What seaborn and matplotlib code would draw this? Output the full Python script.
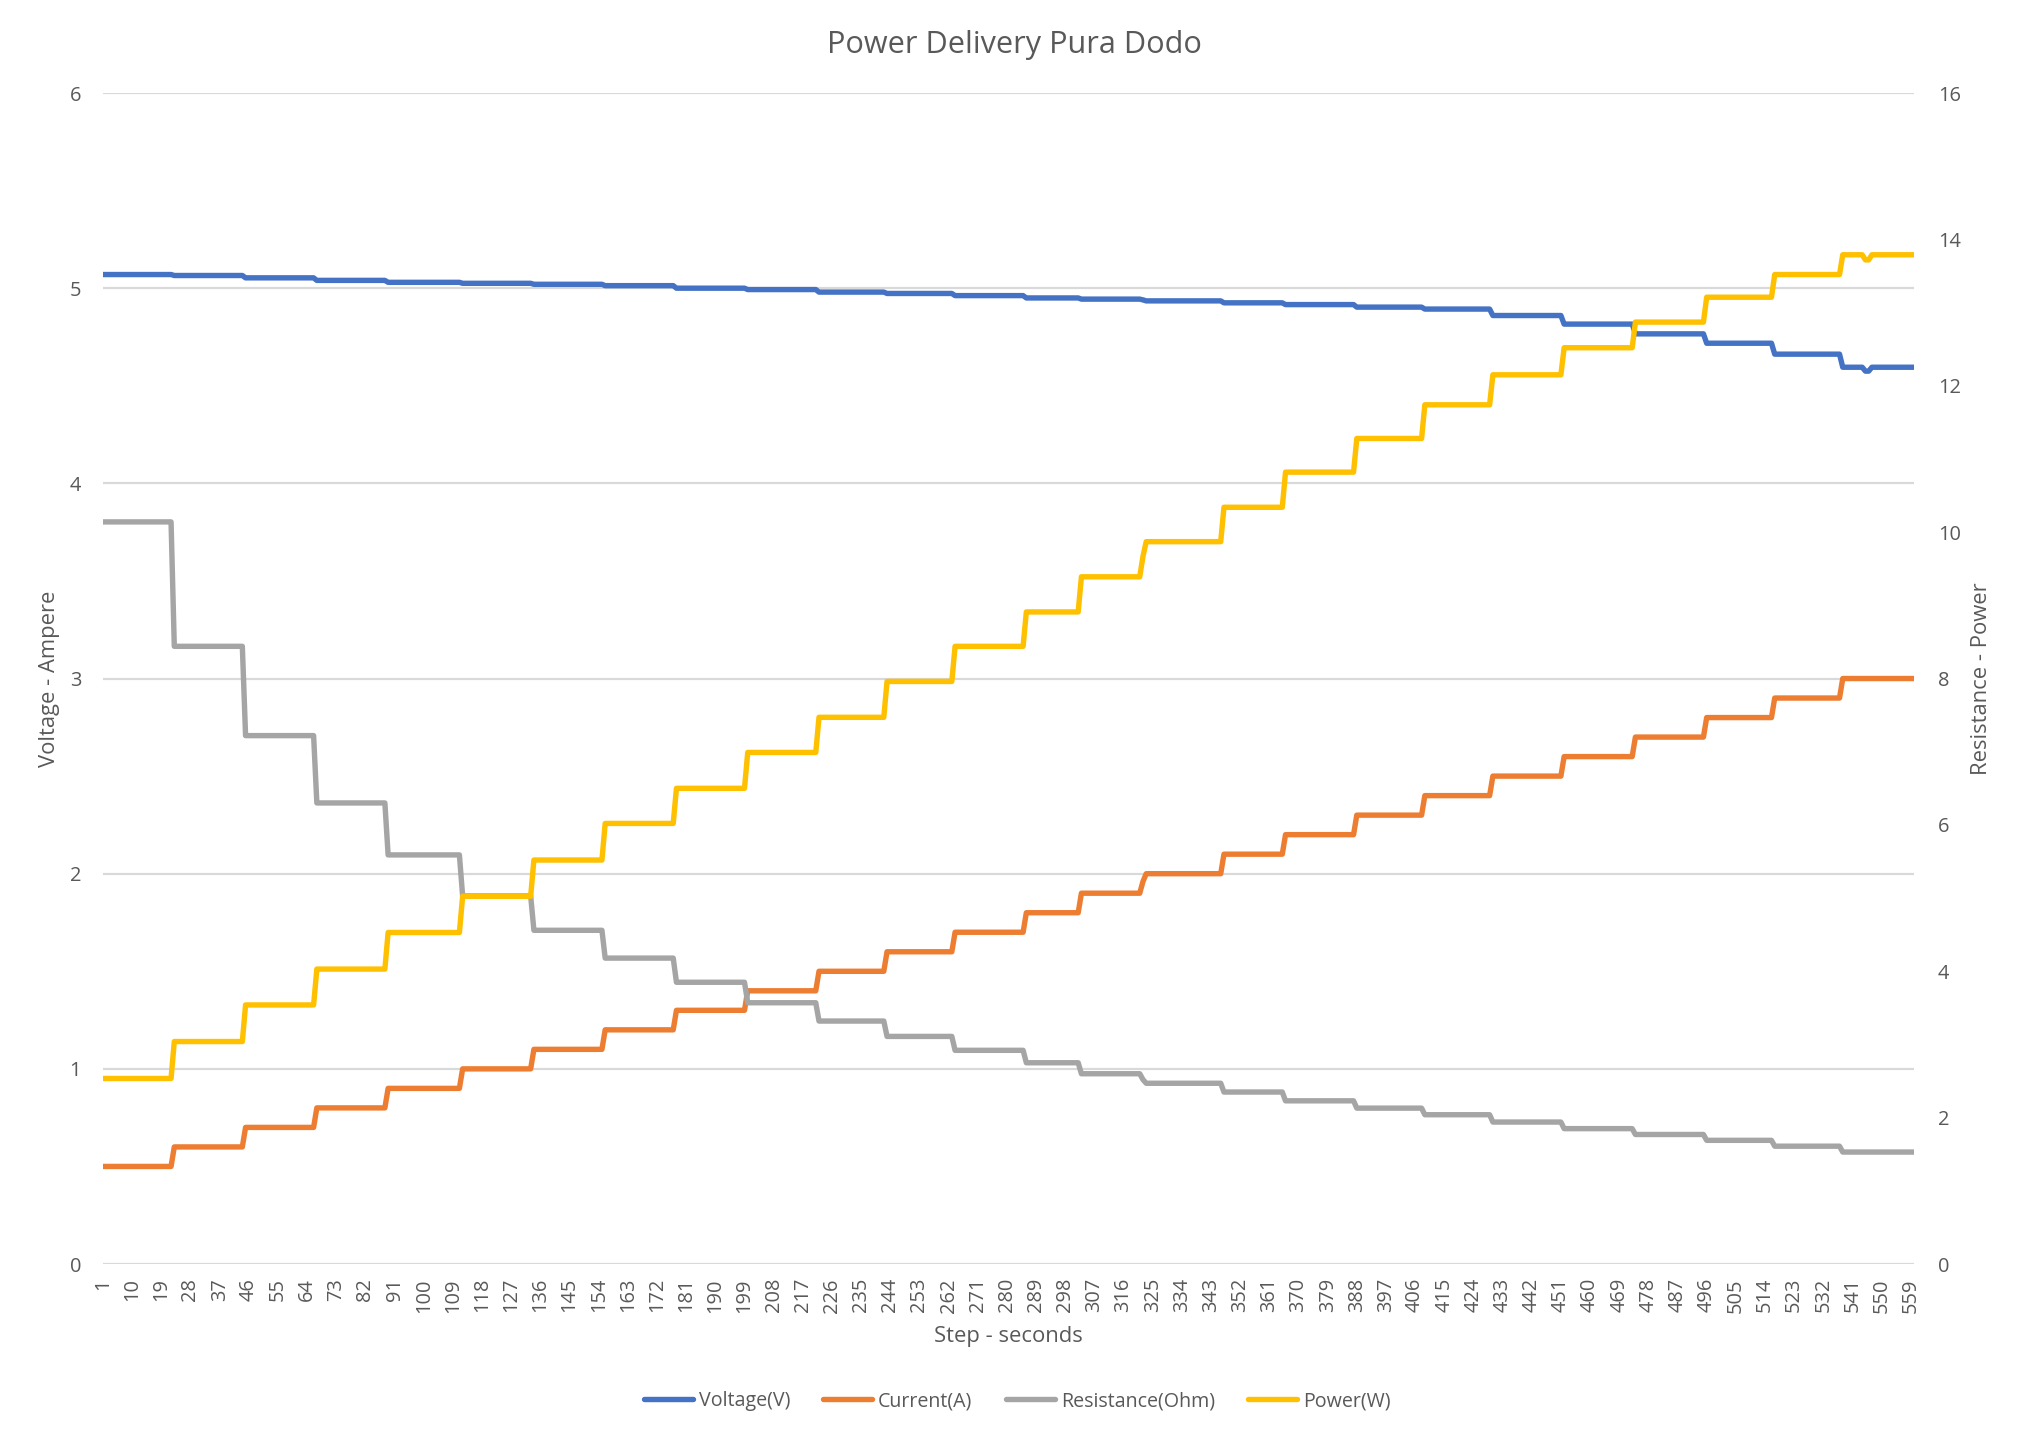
import numpy as np
import pandas as pd
import matplotlib
matplotlib.use("Agg")
import matplotlib.pyplot as plt
import seaborn as sns

# one level per current setting: first step of the level and the logged values
level_start = [1, 23, 45, 67, 89, 112, 134, 156, 178, 200, 222, 243, 264,
               286, 303, 323, 347, 366, 388, 409, 430, 452, 474, 496, 517, 538]
last_step = 560

current_a = [0.5, 0.6, 0.7, 0.8, 0.9, 1.0, 1.1, 1.2, 1.3, 1.4, 1.5, 1.6, 1.7,
             1.8, 1.9, 2.0, 2.1, 2.2, 2.3, 2.4, 2.5, 2.6, 2.7, 2.8, 2.9, 3.0]
voltage_v = [5.07, 5.065, 5.053, 5.04, 5.03, 5.025, 5.02, 5.013, 5.0, 4.993,
             4.98, 4.973, 4.962, 4.95, 4.944, 4.935, 4.925, 4.916, 4.903,
             4.893, 4.86, 4.816, 4.766, 4.718, 4.662, 4.595]
resistance_ohm = [10.14, 8.44, 7.22, 6.30, 5.59, 5.03, 4.56, 4.18, 3.85, 3.57,
                  3.32, 3.11, 2.92, 2.75, 2.60, 2.47, 2.35, 2.23, 2.13, 2.04,
                  1.94, 1.85, 1.77, 1.69, 1.61, 1.53]
power_w = [2.535, 3.04, 3.54, 4.03, 4.53, 5.025, 5.52, 6.02, 6.50, 6.99,
           7.47, 7.96, 8.44, 8.91, 9.39, 9.87, 10.34, 10.82, 11.28, 11.74,
           12.15, 12.52, 12.87, 13.21, 13.52, 13.79]

# short one-off readings inside a level
glitch_step = [322, 545, 546]
glitch_voltage = [4.94, 4.575, 4.575]
glitch_current = [1.96, 3.0, 3.0]
glitch_resistance = [2.52, 1.53, 1.53]
glitch_power = [9.67, 13.72, 13.72]

steps = np.arange(1, last_step + 1)
durations = np.diff(level_start + [last_step + 1])
idx = np.array(glitch_step) - 1

df = pd.DataFrame({"Step": steps})
for col, levels, glitch in [("Voltage(V)", voltage_v, glitch_voltage),
                            ("Current(A)", current_a, glitch_current),
                            ("Resistance(Ohm)", resistance_ohm, glitch_resistance),
                            ("Power(W)", power_w, glitch_power)]:
    vals = np.repeat(np.array(levels, dtype=float), durations)
    vals[idx] = glitch
    df[col] = vals

colors = {"Voltage(V)": "#4472C4", "Current(A)": "#ED7D31",
          "Resistance(Ohm)": "#A5A5A5", "Power(W)": "#FFC000"}
text_color = "#595959"

sns.set_style("white")
plt.rcParams["font.family"] = ["Open Sans", "DejaVu Sans"]

fig, ax = plt.subplots(figsize=(2028 / 144, 1440 / 144), dpi=144)
fig.subplots_adjust(left=0.0508, right=0.9438, top=0.9354, bottom=0.1222)
ax2 = ax.twinx()

for col in ["Voltage(V)", "Current(A)"]:
    sns.lineplot(data=df, x="Step", y=col, ax=ax, color=colors[col], lw=2.7,
                 label=col, legend=False, solid_capstyle="round")
for col in ["Resistance(Ohm)", "Power(W)"]:
    sns.lineplot(data=df, x="Step", y=col, ax=ax2, color=colors[col], lw=2.7,
                 label=col, legend=False, solid_capstyle="round")

ax.set_xlim(1, last_step)
ax.set_ylim(0, 6)
ax2.set_ylim(0, 16)
ax.set_yticks(np.arange(0, 7, 1))
ax2.set_yticks(np.arange(0, 17, 2))
ax.set_xticks(np.arange(1, last_step, 9))
ax.set_xticklabels([str(s) for s in np.arange(1, last_step, 9)], rotation=90)

ax.yaxis.grid(True, color="#D9D9D9", lw=1.1)
ax.xaxis.grid(False)
ax.set_axisbelow(True)
for a in (ax, ax2):
    for s in a.spines.values():
        s.set_visible(False)
    a.tick_params(length=0, labelsize=10, colors=text_color)
ax.tick_params(axis="y", pad=11)
ax.tick_params(axis="x", pad=7)
ax2.tick_params(axis="y", pad=12)

ax.set_xlabel("Step - seconds", fontsize=11, color=text_color)
ax.set_ylabel("Voltage - Ampere", fontsize=11, color=text_color)
ax2.set_ylabel("Resistance - Power", fontsize=11, color=text_color)
ax.xaxis.set_label_coords(0.5, -0.0615)
ax.xaxis.label.set_va("center")
ax.yaxis.set_label_coords(-0.0298, 0.5)
ax.yaxis.label.set_va("center")
ax2.yaxis.set_label_coords(1.037, 0.5)
ax2.yaxis.label.set_va("center")

fig.suptitle("Power Delivery Pura Dodo", x=0.5, y=0.969, va="center",
             fontsize=15.3, color=text_color)

h1, l1 = ax.get_legend_handles_labels()
h2, l2 = ax2.get_legend_handles_labels()
fig.legend(h1 + h2, l1 + l2, loc="center", bbox_to_anchor=(0.5015, 0.027),
           ncol=4, frameon=False, fontsize=9.8, labelcolor=text_color,
           handlelength=2.5, handletextpad=0.3, columnspacing=1.7)

fig.savefig("out.png", dpi=144, facecolor="white")
